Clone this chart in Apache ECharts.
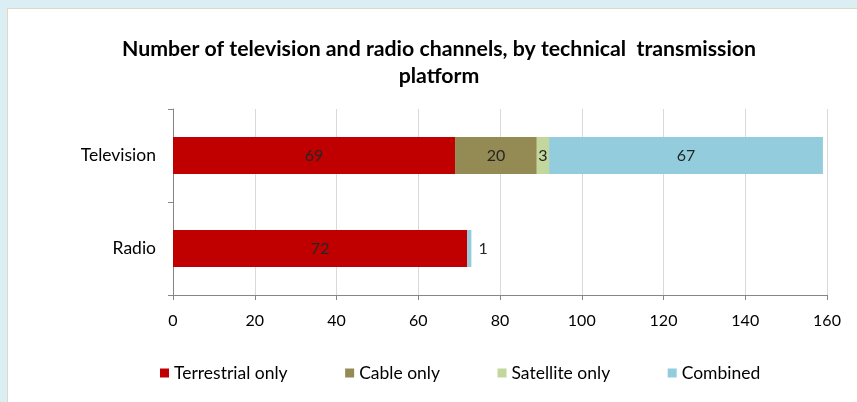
<!DOCTYPE html>
<html>
<head>
<meta charset="utf-8">
<script src="https://cdn.jsdelivr.net/npm/echarts@6/dist/echarts.min.js"></script>
<style>
html,body{margin:0;padding:0;background:#daeef3;width:857px;height:402px;overflow:hidden;}
#wrap{position:absolute;left:7px;top:8px;width:850px;height:394px;border-left:1px solid #ddd9c3;border-top:1px solid #ddd9c3;background:#fff;}
#chart{width:849px;height:393px;}
</style>
</head>
<body>
<div id="wrap"><div id="chart"></div></div>
<script>
var categories = ['Television', 'Radio'];
var seriesNames = ['Terrestrial only', 'Cable only', 'Satellite only', 'Combined'];
var terrestrial = [69, 72];
var cable = [20, 0];
var satellite = [3, 0];
var combined = [67, 1];
var xTicks = [0, 20, 40, 60, 80, 100, 120, 140, 160];
var colors = ['#c00000', '#948a54', '#c3d69b', '#93cddd'];

var FONT = 'Lato';
var values = [terrestrial, cable, satellite, combined];

var series = seriesNames.map(function (name, i) {
  return {
    name: name,
    type: 'bar',
    stack: 'total',
    barWidth: 37,
    itemStyle: { color: colors[i] },
    label: {
      show: true,
      position: 'inside',
      color: '#262626',
      fontFamily: FONT,
      fontSize: 16,
      formatter: function (p) { return p.value ? String(p.value) : ''; }
    },
    data: values[i].map(function (v) {
      var d = { value: v };
      if (i === 3 && v < 3) d.label = { position: 'right', distance: 7 };
      return d;
    })
  };
});

var chart = echarts.init(document.getElementById('chart'));
chart.setOption({
  animation: false,
  title: {
    text: 'Number of television and radio channels, by technical  transmission\nplatform',
    left: 426,
    textAlign: 'center',
    top: 22,
    textStyle: { fontFamily: FONT, fontWeight: 'bold', fontSize: 21.3, color: '#000', lineHeight: 27 }
  },
  legend: {
    data: seriesNames,
    left: 147,
    top: 350,
    icon: 'rect',
    itemWidth: 9,
    itemHeight: 9,
    itemGap: 57.5,
    textStyle: { fontFamily: FONT, fontSize: 17.5, color: '#000' }
  },
  grid: { left: 165, right: 30, top: 100, bottom: 107, containLabel: false },
  xAxis: {
    type: 'value',
    min: xTicks[0],
    max: xTicks[xTicks.length - 1],
    interval: xTicks[1] - xTicks[0],
    axisLine: { show: true, lineStyle: { color: '#868686' } },
    axisTick: { show: true, length: 5, lineStyle: { color: '#868686' } },
    axisLabel: { margin: 18, fontFamily: FONT, fontSize: 16, color: '#000' },
    splitLine: { show: true, lineStyle: { color: '#d9d9d9' } }
  },
  yAxis: {
    type: 'category',
    data: categories,
    inverse: true,
    axisLine: { show: true, lineStyle: { color: '#868686' } },
    axisTick: { show: true, length: 5, lineStyle: { color: '#868686' } },
    axisLabel: { margin: 17, fontFamily: FONT, fontSize: 17.5, color: '#000' }
  },
  series: series
});
</script>
</body>
</html>
